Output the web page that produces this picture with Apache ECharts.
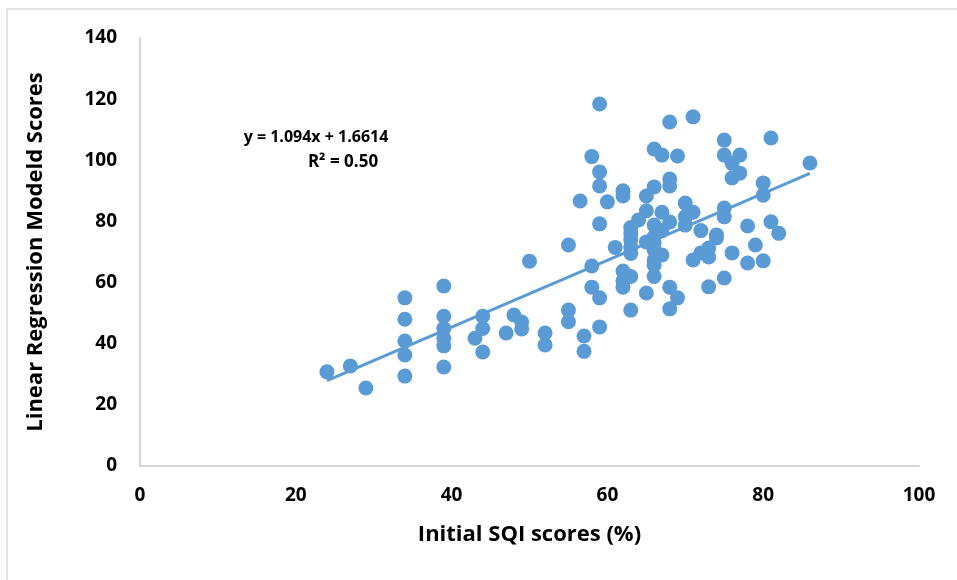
<!DOCTYPE html>
<html>
<head>
<meta charset="utf-8">
<script src="https://cdn.jsdelivr.net/npm/echarts@6/dist/echarts.min.js"></script>
<style>
  html, body { margin: 0; padding: 0; background: #fff; }
  #chart { width: 957px; height: 580px; }
</style>
</head>
<body>
<div id="chart"></div>
<script>
// initial SQI score (%) for each facility
const sqiScores = [
    24, 27, 29, 34, 34, 34, 34, 34, 39, 39, 39, 39, 39, 39,
    43, 44, 44, 44, 47, 48, 49, 49, 50, 52, 52, 55, 55, 55,
    56.5, 57, 57, 58, 58, 58, 59, 59, 59, 59, 59, 59, 60, 61,
    62, 62, 62, 62, 62, 63, 63, 63, 63, 63, 63, 63, 64,
    65, 65, 65, 65, 66, 66, 66, 66, 66, 66, 66, 66, 66,
    67, 67, 67, 67, 68, 68, 68, 68, 68, 68, 69, 69,
    70, 70, 70, 71, 71, 71, 72, 72, 73, 73, 73, 74, 74,
    75, 75, 75, 75, 75, 76, 76, 76, 77, 77, 78, 78, 79,
    80, 80, 80, 81, 81, 82, 86
];
// score predicted by the linear regression model
const modelScores = [
    30.8, 32.7, 25.5, 55, 48, 40.9, 36.3, 29.4, 58.9, 49, 45, 41.8, 39.3, 32.4,
    41.8, 49, 45, 37.3, 43.5, 49.4, 47.1, 44.8, 67, 43.5, 39.6, 72.3, 51, 47.2,
    86.7, 42.5, 37.5, 101.2, 65.4, 58.5, 118.4, 96.2, 91.6, 79.2, 55, 45.5, 86.4, 71.5,
    90, 88.3, 63.8, 60.5, 58.5, 78, 74, 71.6, 69.5, 62, 51, 76, 80.5,
    88.3, 83.5, 73.3, 56.6, 103.7, 91.3, 78.8, 75, 73, 70.7, 67.4, 65.7, 62,
    101.7, 83, 77, 69, 112.5, 93.9, 91.6, 79.8, 58.5, 51.4, 101.4, 55,
    86, 81.5, 78.8, 114.2, 83, 67.4, 77, 69.7, 71.3, 68.4, 58.6, 75.6, 74.6,
    106.6, 101.7, 84.4, 81.5, 61.5, 99, 94.2, 69.7, 101.7, 95.8, 78.5, 66.4, 72.3,
    92.6, 88.6, 67.1, 107.3, 79.9, 76.1, 99.1
];
// fitted trend line y = slope * x + intercept
const trendSlope = 1.094;
const trendIntercept = 1.6614;
const trendLabels = ['y = 1.094x + 1.6614', 'R² = 0.50'];

const blue = '#5B9BD5';
const axisGray = '#C9C9C9';
const fontName = '"Open Sans", sans-serif';

let points = sqiScores.map((x, i) => [x, modelScores[i]]);
let xLow = Math.min.apply(null, sqiScores);
let xHigh = Math.max.apply(null, sqiScores);
let trend = [xLow, xHigh].map(x => [x, trendSlope * x + trendIntercept]);

let chart = echarts.init(document.getElementById('chart'));

chart.setOption({
    animation: false,
    grid: {
        left: 140,
        right: 38,
        top: 38,
        bottom: 114
    },
    xAxis: {
        type: 'value',
        min: 0,
        max: 100,
        interval: 20,
        name: 'Initial SQI scores (%)',
        nameLocation: 'middle',
        nameGap: 58,
        nameTextStyle: { fontFamily: fontName, fontWeight: 'bold', fontSize: 22, color: '#000' },
        axisLine: { show: true, lineStyle: { color: axisGray, width: 1.5 } },
        axisTick: { show: false },
        splitLine: { show: false },
        axisLabel: { margin: 20, fontFamily: fontName, fontWeight: 'bold', fontSize: 19, color: '#000' }
    },
    yAxis: {
        type: 'value',
        min: 0,
        max: 140,
        interval: 20,
        name: 'Linear Regression Modeld Scores',
        nameLocation: 'middle',
        nameGap: 93,
        nameTextStyle: { fontFamily: fontName, fontWeight: 'bold', fontSize: 22, color: '#000' },
        axisLine: { show: true, lineStyle: { color: axisGray, width: 1.5 } },
        axisTick: { show: false },
        splitLine: { show: false },
        axisLabel: { margin: 23, fontFamily: fontName, fontWeight: 'bold', fontSize: 19, color: '#000' }
    },
    graphic: [
        {
            type: 'rect',
            silent: true,
            shape: { x: 7, y: 9, width: 980, height: 600 },
            style: { fill: 'none', stroke: '#D9D9D9', lineWidth: 1.5 }
        },
        {
            type: 'text',
            x: 316,
            y: 137,
            style: {
                text: trendLabels[0],
                align: 'center',
                verticalAlign: 'middle',
                font: 'bold 16px ' + fontName,
                fill: '#000'
            }
        },
        {
            type: 'text',
            x: 343,
            y: 162,
            style: {
                text: trendLabels[1],
                align: 'center',
                verticalAlign: 'middle',
                font: 'bold 17px ' + fontName,
                fill: '#000'
            }
        }
    ],
    series: [
        {
            type: 'scatter',
            data: points,
            symbolSize: 15,
            itemStyle: { color: blue, opacity: 1 },
            z: 2
        },
        {
            type: 'line',
            data: trend,
            symbol: 'none',
            lineStyle: { color: blue, width: 3 },
            z: 3
        }
    ]
});
</script>
</body>
</html>
